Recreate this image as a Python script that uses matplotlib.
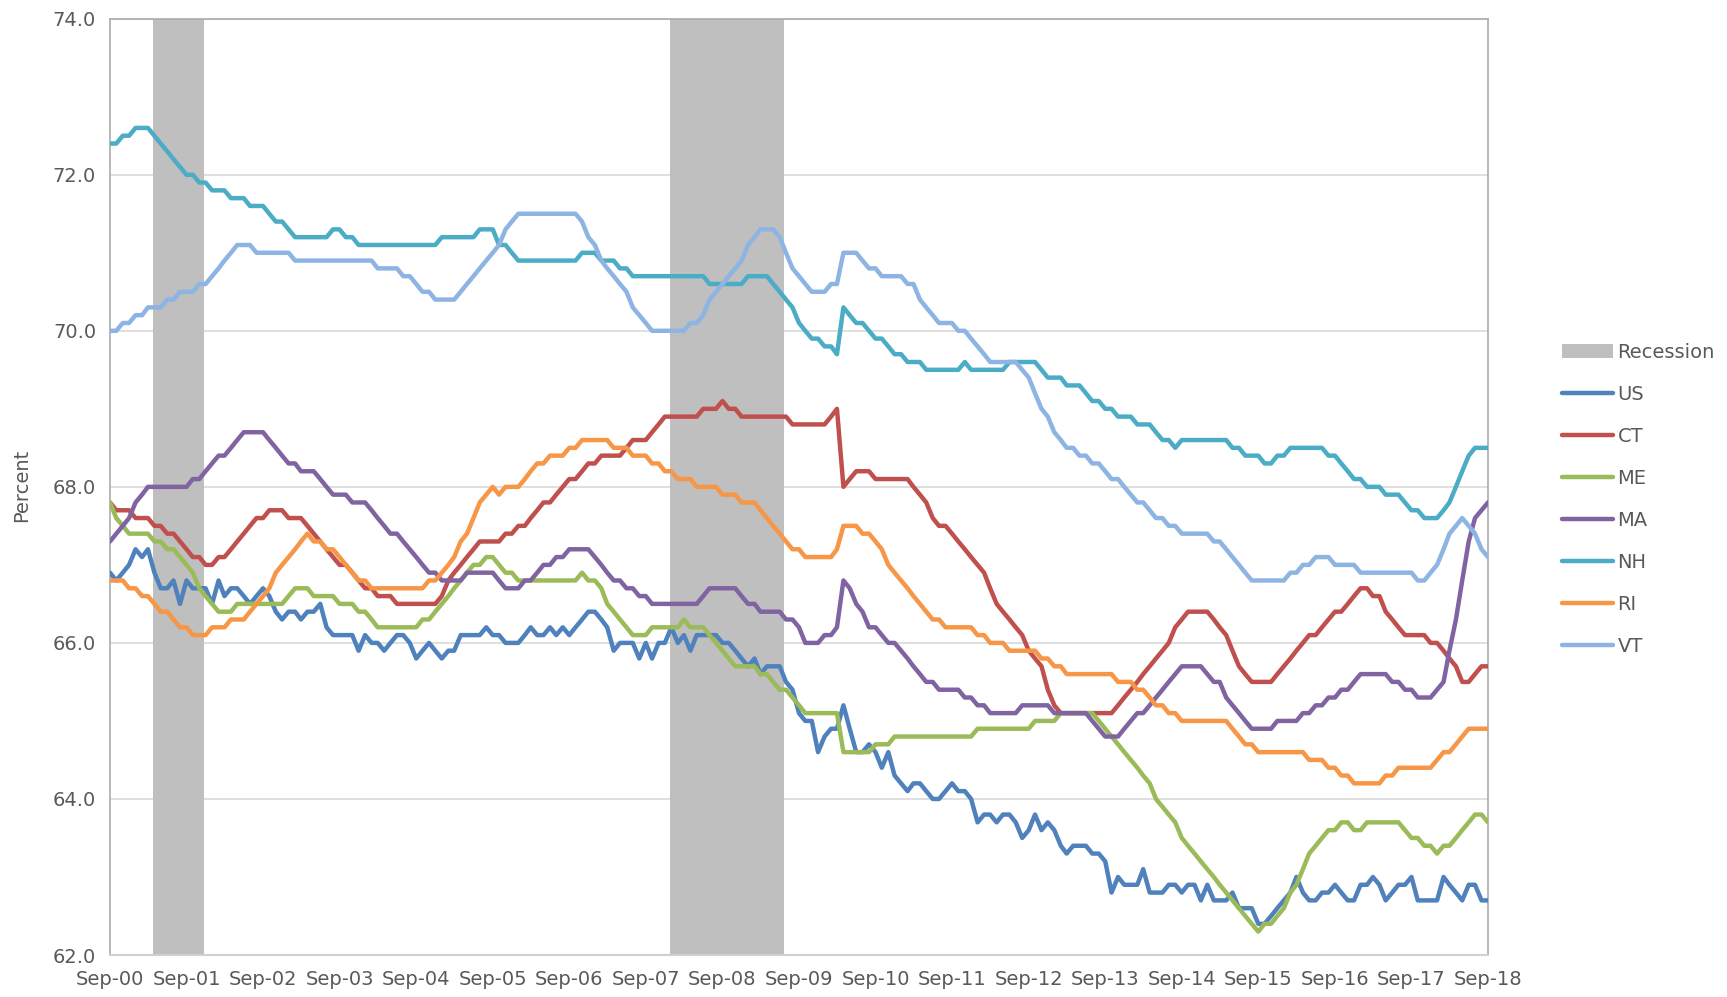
import numpy as np
import pandas as pd
import matplotlib.pyplot as plt

# monthly labour force participation rate, Sep-00 .. Sep-18
dates = pd.date_range("2000-09-01", "2018-09-01", freq="MS")

us = [66.9, 66.8, 66.9, 67.0, 67.2, 67.1, 67.2, 66.9, 66.7, 66.7, 66.8, 66.5,
      66.8, 66.7, 66.7, 66.7, 66.5, 66.8, 66.6, 66.7, 66.7, 66.6, 66.5, 66.6,
      66.7, 66.6, 66.4, 66.3, 66.4, 66.4, 66.3, 66.4, 66.4, 66.5, 66.2, 66.1,
      66.1, 66.1, 66.1, 65.9, 66.1, 66.0, 66.0, 65.9, 66.0, 66.1, 66.1, 66.0,
      65.8, 65.9, 66.0, 65.9, 65.8, 65.9, 65.9, 66.1, 66.1, 66.1, 66.1, 66.2,
      66.1, 66.1, 66.0, 66.0, 66.0, 66.1, 66.2, 66.1, 66.1, 66.2, 66.1, 66.2,
      66.1, 66.2, 66.3, 66.4, 66.4, 66.3, 66.2, 65.9, 66.0, 66.0, 66.0, 65.8,
      66.0, 65.8, 66.0, 66.0, 66.2, 66.0, 66.1, 65.9, 66.1, 66.1, 66.1, 66.1,
      66.0, 66.0, 65.9, 65.8, 65.7, 65.8, 65.6, 65.7, 65.7, 65.7, 65.5, 65.4,
      65.1, 65.0, 65.0, 64.6, 64.8, 64.9, 64.9, 65.2, 64.9, 64.6, 64.6, 64.7,
      64.6, 64.4, 64.6, 64.3, 64.2, 64.1, 64.2, 64.2, 64.1, 64.0, 64.0, 64.1,
      64.2, 64.1, 64.1, 64.0, 63.7, 63.8, 63.8, 63.7, 63.8, 63.8, 63.7, 63.5,
      63.6, 63.8, 63.6, 63.7, 63.6, 63.4, 63.3, 63.4, 63.4, 63.4, 63.3, 63.3,
      63.2, 62.8, 63.0, 62.9, 62.9, 62.9, 63.1, 62.8, 62.8, 62.8, 62.9, 62.9,
      62.8, 62.9, 62.9, 62.7, 62.9, 62.7, 62.7, 62.7, 62.8, 62.6, 62.6, 62.6,
      62.4, 62.4, 62.5, 62.6, 62.7, 62.8, 63.0, 62.8, 62.7, 62.7, 62.8, 62.8,
      62.9, 62.8, 62.7, 62.7, 62.9, 62.9, 63.0, 62.9, 62.7, 62.8, 62.9, 62.9,
      63.0, 62.7, 62.7, 62.7, 62.7, 63.0, 62.9, 62.8, 62.7, 62.9, 62.9, 62.7,
      62.7]

ct = [67.8, 67.7, 67.7, 67.7, 67.6, 67.6, 67.6, 67.5, 67.5, 67.4, 67.4, 67.3,
      67.2, 67.1, 67.1, 67.0, 67.0, 67.1, 67.1, 67.2, 67.3, 67.4, 67.5, 67.6,
      67.6, 67.7, 67.7, 67.7, 67.6, 67.6, 67.6, 67.5, 67.4, 67.3, 67.2, 67.1,
      67.0, 67.0, 66.9, 66.8, 66.7, 66.7, 66.6, 66.6, 66.6, 66.5, 66.5, 66.5,
      66.5, 66.5, 66.5, 66.5, 66.6, 66.8, 66.9, 67.0, 67.1, 67.2, 67.3, 67.3,
      67.3, 67.3, 67.4, 67.4, 67.5, 67.5, 67.6, 67.7, 67.8, 67.8, 67.9, 68.0,
      68.1, 68.1, 68.2, 68.3, 68.3, 68.4, 68.4, 68.4, 68.4, 68.5, 68.6, 68.6,
      68.6, 68.7, 68.8, 68.9, 68.9, 68.9, 68.9, 68.9, 68.9, 69.0, 69.0, 69.0,
      69.1, 69.0, 69.0, 68.9, 68.9, 68.9, 68.9, 68.9, 68.9, 68.9, 68.9, 68.8,
      68.8, 68.8, 68.8, 68.8, 68.8, 68.9, 69.0, 68.0, 68.1, 68.2, 68.2, 68.2,
      68.1, 68.1, 68.1, 68.1, 68.1, 68.1, 68.0, 67.9, 67.8, 67.6, 67.5, 67.5,
      67.4, 67.3, 67.2, 67.1, 67.0, 66.9, 66.7, 66.5, 66.4, 66.3, 66.2, 66.1,
      65.9, 65.8, 65.7, 65.4, 65.2, 65.1, 65.1, 65.1, 65.1, 65.1, 65.1, 65.1,
      65.1, 65.1, 65.2, 65.3, 65.4, 65.5, 65.6, 65.7, 65.8, 65.9, 66.0, 66.2,
      66.3, 66.4, 66.4, 66.4, 66.4, 66.3, 66.2, 66.1, 65.9, 65.7, 65.6, 65.5,
      65.5, 65.5, 65.5, 65.6, 65.7, 65.8, 65.9, 66.0, 66.1, 66.1, 66.2, 66.3,
      66.4, 66.4, 66.5, 66.6, 66.7, 66.7, 66.6, 66.6, 66.4, 66.3, 66.2, 66.1,
      66.1, 66.1, 66.1, 66.0, 66.0, 65.9, 65.8, 65.7, 65.5, 65.5, 65.6, 65.7,
      65.7]

me = [67.8, 67.6, 67.5, 67.4, 67.4, 67.4, 67.4, 67.3, 67.3, 67.2, 67.2, 67.1,
      67.0, 66.9, 66.7, 66.6, 66.5, 66.4, 66.4, 66.4, 66.5, 66.5, 66.5, 66.5,
      66.5, 66.5, 66.5, 66.5, 66.6, 66.7, 66.7, 66.7, 66.6, 66.6, 66.6, 66.6,
      66.5, 66.5, 66.5, 66.4, 66.4, 66.3, 66.2, 66.2, 66.2, 66.2, 66.2, 66.2,
      66.2, 66.3, 66.3, 66.4, 66.5, 66.6, 66.7, 66.8, 66.9, 67.0, 67.0, 67.1,
      67.1, 67.0, 66.9, 66.9, 66.8, 66.8, 66.8, 66.8, 66.8, 66.8, 66.8, 66.8,
      66.8, 66.8, 66.9, 66.8, 66.8, 66.7, 66.5, 66.4, 66.3, 66.2, 66.1, 66.1,
      66.1, 66.2, 66.2, 66.2, 66.2, 66.2, 66.3, 66.2, 66.2, 66.2, 66.1, 66.0,
      65.9, 65.8, 65.7, 65.7, 65.7, 65.7, 65.6, 65.6, 65.5, 65.4, 65.4, 65.3,
      65.2, 65.1, 65.1, 65.1, 65.1, 65.1, 65.1, 64.6, 64.6, 64.6, 64.6, 64.6,
      64.7, 64.7, 64.7, 64.8, 64.8, 64.8, 64.8, 64.8, 64.8, 64.8, 64.8, 64.8,
      64.8, 64.8, 64.8, 64.8, 64.9, 64.9, 64.9, 64.9, 64.9, 64.9, 64.9, 64.9,
      64.9, 65.0, 65.0, 65.0, 65.0, 65.1, 65.1, 65.1, 65.1, 65.1, 65.1, 65.0,
      64.9, 64.8, 64.7, 64.6, 64.5, 64.4, 64.3, 64.2, 64.0, 63.9, 63.8, 63.7,
      63.5, 63.4, 63.3, 63.2, 63.1, 63.0, 62.9, 62.8, 62.7, 62.6, 62.5, 62.4,
      62.3, 62.4, 62.4, 62.5, 62.6, 62.8, 62.9, 63.1, 63.3, 63.4, 63.5, 63.6,
      63.6, 63.7, 63.7, 63.6, 63.6, 63.7, 63.7, 63.7, 63.7, 63.7, 63.7, 63.6,
      63.5, 63.5, 63.4, 63.4, 63.3, 63.4, 63.4, 63.5, 63.6, 63.7, 63.8, 63.8,
      63.7]

ma = [67.3, 67.4, 67.5, 67.6, 67.8, 67.9, 68.0, 68.0, 68.0, 68.0, 68.0, 68.0,
      68.0, 68.1, 68.1, 68.2, 68.3, 68.4, 68.4, 68.5, 68.6, 68.7, 68.7, 68.7,
      68.7, 68.6, 68.5, 68.4, 68.3, 68.3, 68.2, 68.2, 68.2, 68.1, 68.0, 67.9,
      67.9, 67.9, 67.8, 67.8, 67.8, 67.7, 67.6, 67.5, 67.4, 67.4, 67.3, 67.2,
      67.1, 67.0, 66.9, 66.9, 66.8, 66.8, 66.8, 66.8, 66.9, 66.9, 66.9, 66.9,
      66.9, 66.8, 66.7, 66.7, 66.7, 66.8, 66.8, 66.9, 67.0, 67.0, 67.1, 67.1,
      67.2, 67.2, 67.2, 67.2, 67.1, 67.0, 66.9, 66.8, 66.8, 66.7, 66.7, 66.6,
      66.6, 66.5, 66.5, 66.5, 66.5, 66.5, 66.5, 66.5, 66.5, 66.6, 66.7, 66.7,
      66.7, 66.7, 66.7, 66.6, 66.5, 66.5, 66.4, 66.4, 66.4, 66.4, 66.3, 66.3,
      66.2, 66.0, 66.0, 66.0, 66.1, 66.1, 66.2, 66.8, 66.7, 66.5, 66.4, 66.2,
      66.2, 66.1, 66.0, 66.0, 65.9, 65.8, 65.7, 65.6, 65.5, 65.5, 65.4, 65.4,
      65.4, 65.4, 65.3, 65.3, 65.2, 65.2, 65.1, 65.1, 65.1, 65.1, 65.1, 65.2,
      65.2, 65.2, 65.2, 65.2, 65.1, 65.1, 65.1, 65.1, 65.1, 65.1, 65.0, 64.9,
      64.8, 64.8, 64.8, 64.9, 65.0, 65.1, 65.1, 65.2, 65.3, 65.4, 65.5, 65.6,
      65.7, 65.7, 65.7, 65.7, 65.6, 65.5, 65.5, 65.3, 65.2, 65.1, 65.0, 64.9,
      64.9, 64.9, 64.9, 65.0, 65.0, 65.0, 65.0, 65.1, 65.1, 65.2, 65.2, 65.3,
      65.3, 65.4, 65.4, 65.5, 65.6, 65.6, 65.6, 65.6, 65.6, 65.5, 65.5, 65.4,
      65.4, 65.3, 65.3, 65.3, 65.4, 65.5, 65.9, 66.3, 66.8, 67.3, 67.6, 67.7,
      67.8]

nh = [72.4, 72.4, 72.5, 72.5, 72.6, 72.6, 72.6, 72.5, 72.4, 72.3, 72.2, 72.1,
      72.0, 72.0, 71.9, 71.9, 71.8, 71.8, 71.8, 71.7, 71.7, 71.7, 71.6, 71.6,
      71.6, 71.5, 71.4, 71.4, 71.3, 71.2, 71.2, 71.2, 71.2, 71.2, 71.2, 71.3,
      71.3, 71.2, 71.2, 71.1, 71.1, 71.1, 71.1, 71.1, 71.1, 71.1, 71.1, 71.1,
      71.1, 71.1, 71.1, 71.1, 71.2, 71.2, 71.2, 71.2, 71.2, 71.2, 71.3, 71.3,
      71.3, 71.1, 71.1, 71.0, 70.9, 70.9, 70.9, 70.9, 70.9, 70.9, 70.9, 70.9,
      70.9, 70.9, 71.0, 71.0, 71.0, 70.9, 70.9, 70.9, 70.8, 70.8, 70.7, 70.7,
      70.7, 70.7, 70.7, 70.7, 70.7, 70.7, 70.7, 70.7, 70.7, 70.7, 70.6, 70.6,
      70.6, 70.6, 70.6, 70.6, 70.7, 70.7, 70.7, 70.7, 70.6, 70.5, 70.4, 70.3,
      70.1, 70.0, 69.9, 69.9, 69.8, 69.8, 69.7, 70.3, 70.2, 70.1, 70.1, 70.0,
      69.9, 69.9, 69.8, 69.7, 69.7, 69.6, 69.6, 69.6, 69.5, 69.5, 69.5, 69.5,
      69.5, 69.5, 69.6, 69.5, 69.5, 69.5, 69.5, 69.5, 69.5, 69.6, 69.6, 69.6,
      69.6, 69.6, 69.5, 69.4, 69.4, 69.4, 69.3, 69.3, 69.3, 69.2, 69.1, 69.1,
      69.0, 69.0, 68.9, 68.9, 68.9, 68.8, 68.8, 68.8, 68.7, 68.6, 68.6, 68.5,
      68.6, 68.6, 68.6, 68.6, 68.6, 68.6, 68.6, 68.6, 68.5, 68.5, 68.4, 68.4,
      68.4, 68.3, 68.3, 68.4, 68.4, 68.5, 68.5, 68.5, 68.5, 68.5, 68.5, 68.4,
      68.4, 68.3, 68.2, 68.1, 68.1, 68.0, 68.0, 68.0, 67.9, 67.9, 67.9, 67.8,
      67.7, 67.7, 67.6, 67.6, 67.6, 67.7, 67.8, 68.0, 68.2, 68.4, 68.5, 68.5,
      68.5]

ri = [66.8, 66.8, 66.8, 66.7, 66.7, 66.6, 66.6, 66.5, 66.4, 66.4, 66.3, 66.2,
      66.2, 66.1, 66.1, 66.1, 66.2, 66.2, 66.2, 66.3, 66.3, 66.3, 66.4, 66.5,
      66.6, 66.7, 66.9, 67.0, 67.1, 67.2, 67.3, 67.4, 67.3, 67.3, 67.2, 67.2,
      67.1, 67.0, 66.9, 66.8, 66.8, 66.7, 66.7, 66.7, 66.7, 66.7, 66.7, 66.7,
      66.7, 66.7, 66.8, 66.8, 66.9, 67.0, 67.1, 67.3, 67.4, 67.6, 67.8, 67.9,
      68.0, 67.9, 68.0, 68.0, 68.0, 68.1, 68.2, 68.3, 68.3, 68.4, 68.4, 68.4,
      68.5, 68.5, 68.6, 68.6, 68.6, 68.6, 68.6, 68.5, 68.5, 68.5, 68.4, 68.4,
      68.4, 68.3, 68.3, 68.2, 68.2, 68.1, 68.1, 68.1, 68.0, 68.0, 68.0, 68.0,
      67.9, 67.9, 67.9, 67.8, 67.8, 67.8, 67.7, 67.6, 67.5, 67.4, 67.3, 67.2,
      67.2, 67.1, 67.1, 67.1, 67.1, 67.1, 67.2, 67.5, 67.5, 67.5, 67.4, 67.4,
      67.3, 67.2, 67.0, 66.9, 66.8, 66.7, 66.6, 66.5, 66.4, 66.3, 66.3, 66.2,
      66.2, 66.2, 66.2, 66.2, 66.1, 66.1, 66.0, 66.0, 66.0, 65.9, 65.9, 65.9,
      65.9, 65.9, 65.8, 65.8, 65.7, 65.7, 65.6, 65.6, 65.6, 65.6, 65.6, 65.6,
      65.6, 65.6, 65.5, 65.5, 65.5, 65.4, 65.4, 65.3, 65.2, 65.2, 65.1, 65.1,
      65.0, 65.0, 65.0, 65.0, 65.0, 65.0, 65.0, 65.0, 64.9, 64.8, 64.7, 64.7,
      64.6, 64.6, 64.6, 64.6, 64.6, 64.6, 64.6, 64.6, 64.5, 64.5, 64.5, 64.4,
      64.4, 64.3, 64.3, 64.2, 64.2, 64.2, 64.2, 64.2, 64.3, 64.3, 64.4, 64.4,
      64.4, 64.4, 64.4, 64.4, 64.5, 64.6, 64.6, 64.7, 64.8, 64.9, 64.9, 64.9,
      64.9]

vt = [70.0, 70.0, 70.1, 70.1, 70.2, 70.2, 70.3, 70.3, 70.3, 70.4, 70.4, 70.5,
      70.5, 70.5, 70.6, 70.6, 70.7, 70.8, 70.9, 71.0, 71.1, 71.1, 71.1, 71.0,
      71.0, 71.0, 71.0, 71.0, 71.0, 70.9, 70.9, 70.9, 70.9, 70.9, 70.9, 70.9,
      70.9, 70.9, 70.9, 70.9, 70.9, 70.9, 70.8, 70.8, 70.8, 70.8, 70.7, 70.7,
      70.6, 70.5, 70.5, 70.4, 70.4, 70.4, 70.4, 70.5, 70.6, 70.7, 70.8, 70.9,
      71.0, 71.1, 71.3, 71.4, 71.5, 71.5, 71.5, 71.5, 71.5, 71.5, 71.5, 71.5,
      71.5, 71.5, 71.4, 71.2, 71.1, 70.9, 70.8, 70.7, 70.6, 70.5, 70.3, 70.2,
      70.1, 70.0, 70.0, 70.0, 70.0, 70.0, 70.0, 70.1, 70.1, 70.2, 70.4, 70.5,
      70.6, 70.7, 70.8, 70.9, 71.1, 71.2, 71.3, 71.3, 71.3, 71.2, 71.0, 70.8,
      70.7, 70.6, 70.5, 70.5, 70.5, 70.6, 70.6, 71.0, 71.0, 71.0, 70.9, 70.8,
      70.8, 70.7, 70.7, 70.7, 70.7, 70.6, 70.6, 70.4, 70.3, 70.2, 70.1, 70.1,
      70.1, 70.0, 70.0, 69.9, 69.8, 69.7, 69.6, 69.6, 69.6, 69.6, 69.6, 69.5,
      69.4, 69.2, 69.0, 68.9, 68.7, 68.6, 68.5, 68.5, 68.4, 68.4, 68.3, 68.3,
      68.2, 68.1, 68.1, 68.0, 67.9, 67.8, 67.8, 67.7, 67.6, 67.6, 67.5, 67.5,
      67.4, 67.4, 67.4, 67.4, 67.4, 67.3, 67.3, 67.2, 67.1, 67.0, 66.9, 66.8,
      66.8, 66.8, 66.8, 66.8, 66.8, 66.9, 66.9, 67.0, 67.0, 67.1, 67.1, 67.1,
      67.0, 67.0, 67.0, 67.0, 66.9, 66.9, 66.9, 66.9, 66.9, 66.9, 66.9, 66.9,
      66.9, 66.8, 66.8, 66.9, 67.0, 67.2, 67.4, 67.5, 67.6, 67.5, 67.4, 67.2,
      67.1]

# recession months (first, last)
recessions = [("2001-04-01", "2001-11-01"), ("2008-01-01", "2009-06-01")]

series = [("US", us, "#4F81BD"), ("CT", ct, "#C0504D"), ("ME", me, "#9BBB59"),
          ("MA", ma, "#8064A2"), ("NH", nh, "#4BACC6"), ("RI", ri, "#F79646"),
          ("VT", vt, "#8EB4E3")]

txt = "#595959"
plt.rcParams["font.family"] = ["DejaVu Sans"]

fig = plt.figure(figsize=(17.27, 9.97), dpi=100)
ax = fig.add_axes([110 / 1727, 1 - 955 / 997, 1378 / 1727, 936.3 / 997])

for start, end in recessions:
    ax.axvspan(pd.Timestamp(start) - pd.Timedelta(days=5),
               pd.Timestamp(end) + pd.Timedelta(days=22),
               color="#BFBFBF", lw=0, zorder=1, label="Recession" if start < "2005" else None)

for name, vals, col in series:
    ax.plot(dates, vals, color=col, lw=3.2, label=name, zorder=3,
            solid_joinstyle="round", solid_capstyle="round")

ax.set_xlim(dates[0], dates[-1])
ax.set_ylim(62, 74)
ax.set_yticks(np.arange(62, 74.1, 2))
ax.set_yticklabels([f"{v:.1f}" for v in np.arange(62, 74.1, 2)])
ticks = pd.date_range("2000-09-01", "2018-09-01", freq="12MS")
ax.set_xticks(ticks)
ax.set_xticklabels([d.strftime("%b-%y") for d in ticks])
ax.tick_params(axis="both", length=0, labelsize=14, colors=txt)
ax.tick_params(axis="y", pad=10)
ax.tick_params(axis="x", pad=11)
ax.grid(axis="y", color="#D9D9D9", lw=1.2, zorder=0)
ax.set_axisbelow(True)
for side in ["top", "left", "right"]:
    ax.spines[side].set_color("#ABABAB")
    ax.spines[side].set_linewidth(1.2)
ax.spines["bottom"].set_color("#D0D0D0")
ax.spines["bottom"].set_linewidth(1.5)

fig.text(22 / 1727, 1 - 485 / 997, "Percent", rotation=90, ha="center", va="center",
         fontsize=14, color=txt)

leg = fig.legend(loc="upper left", bbox_to_anchor=(1562 / 1727, 1 - 343 / 997),
                 frameon=False, fontsize=14, handlelength=2.6, handletextpad=0.25,
                 labelspacing=1.18, borderpad=0, borderaxespad=0)
for t in leg.get_texts():
    t.set_color(txt)

fig.savefig("out.png", dpi=100)
